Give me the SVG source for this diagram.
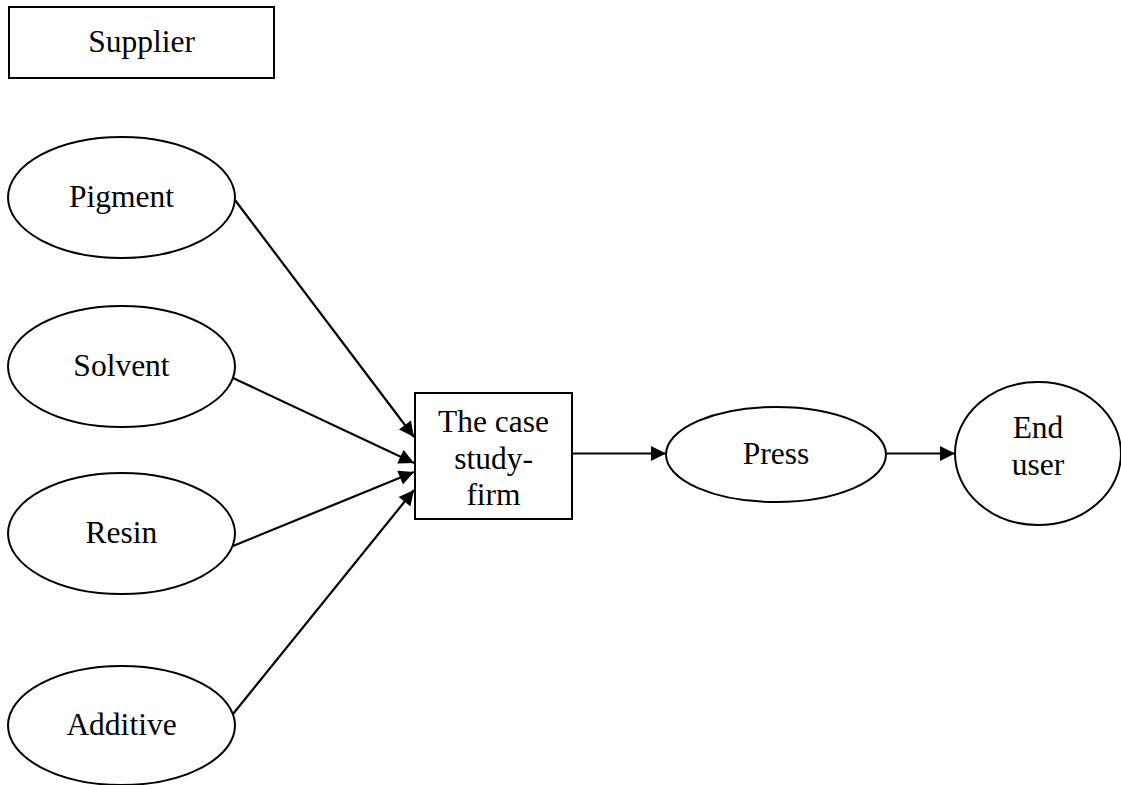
<svg xmlns="http://www.w3.org/2000/svg" width="1121" height="785" viewBox="0 0 1121 785">
  <style>
    .shape { fill: #ffffff; stroke: #000000; stroke-width: 2; }
    .edge { fill: none; stroke: #000000; stroke-width: 2.2; marker-end: url(#arrow); }
    .label { font-family: "Liberation Serif", "Times New Roman", serif; font-size: 31.5px; fill: #000000; text-anchor: middle; }
  </style>
  <defs>
    <marker id="arrow" viewBox="0 0 10 10" refX="10" refY="5" markerUnits="userSpaceOnUse" markerWidth="16" markerHeight="15" orient="auto">
      <path d="M0,0 L10,5 L0,10 Z" fill="#000000"/>
    </marker>
  </defs>

  <g id="supplier">
    <rect class="shape" x="9" y="7" width="265" height="71"/>
    <text class="label" x="141.5" y="52">Supplier</text>
  </g>

  <g id="pigment">
    <ellipse class="shape" cx="121.5" cy="197.5" rx="113.5" ry="60.5"/>
    <text class="label" x="121.5" y="207">Pigment</text>
  </g>

  <g id="solvent">
    <ellipse class="shape" cx="121.5" cy="366.5" rx="113.5" ry="60.5"/>
    <text class="label" x="121.5" y="376">Solvent</text>
  </g>

  <g id="resin">
    <ellipse class="shape" cx="121.5" cy="533.5" rx="113.5" ry="60.5"/>
    <text class="label" x="121.5" y="543">Resin</text>
  </g>

  <g id="additive">
    <ellipse class="shape" cx="121.5" cy="725.5" rx="113.5" ry="59.5"/>
    <text class="label" x="121.5" y="735">Additive</text>
  </g>

  <g id="firm">
    <rect class="shape" x="415" y="393" width="157" height="126"/>
    <text class="label" x="493.5" y="432">The case</text>
    <text class="label" x="493.5" y="468.5">study-</text>
    <text class="label" x="493.5" y="505">firm</text>
  </g>

  <g id="press">
    <ellipse class="shape" cx="776" cy="454.5" rx="110" ry="47.5"/>
    <text class="label" x="776" y="464">Press</text>
  </g>

  <g id="end-user">
    <ellipse class="shape" cx="1038" cy="453.5" rx="83" ry="71.5"/>
    <text class="label" x="1038" y="438">End</text>
    <text class="label" x="1038" y="475">user</text>
  </g>

  <g id="connectors">
    <line class="edge" x1="235" y1="200" x2="414" y2="437"/>
    <line class="edge" x1="233" y1="378" x2="414" y2="463"/>
    <line class="edge" x1="233" y1="546" x2="414" y2="472"/>
    <line class="edge" x1="233" y1="714" x2="414" y2="490"/>
    <line class="edge" x1="572" y1="453.5" x2="666" y2="453.5"/>
    <line class="edge" x1="886" y1="453.5" x2="955" y2="453.5"/>
  </g>
</svg>
